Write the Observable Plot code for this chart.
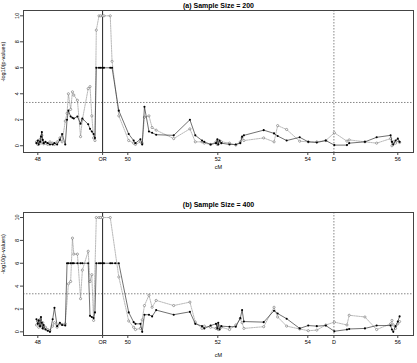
<!DOCTYPE html>
<html>
<head>
<meta charset="utf-8">
<script src="https://cdn.jsdelivr.net/npm/d3@7"></script>
<script src="https://cdn.jsdelivr.net/npm/@observablehq/plot@0.6"></script>
<style>
  body { margin: 0; background: #fff; font-family: "Liberation Sans", Arial, sans-serif; }
  #fig { position: relative; width: 417px; height: 363px; overflow: hidden; }
  #fig > svg { position: absolute; left: 0; }
</style>
</head>
<body>
<div id="fig"></div>
<script>
// Marker positions along the chromosome (cM)
const markerCM = [
  47.97, 48.00, 48.02, 48.05, 48.07, 48.09, 48.11, 48.13, 48.17, 48.22,
  48.27, 48.33, 48.37, 48.43, 48.49, 48.54, 48.61, 48.65, 48.68, 48.73,
  48.77, 48.80, 48.88, 48.95, 48.99, 49.12, 49.16, 49.20, 49.24, 49.27,
  49.30, 49.36, 49.40, 49.44, 49.47, 49.61, 49.65, 49.72, 49.80, 50.02,
  50.13, 50.17, 50.28, 50.32, 50.37, 50.47, 50.54, 50.63, 51.02, 51.38,
  51.50, 51.65, 51.70, 51.84, 51.96, 51.99, 52.01, 52.04, 52.08, 52.26,
  52.40, 52.50, 52.54, 52.58, 53.02, 53.25, 53.33, 53.53, 53.82, 54.01,
  54.20, 54.40, 54.59, 54.87, 54.92, 55.27, 55.53, 55.84, 55.87, 55.90,
  55.95, 56.00, 56.04
];

// -log10(p) per marker, sample size 200 (null = not plotted)
const filled200 = [
  0.2, 0.4, 0.1, 0.3, 0.7, 1.05, 0.45, 0.2, 0.3, 0.2,
  0.1, 0.1, 0.2, 0.1, 0.45, 0.9, 0.1, 2.0, 2.7, 2.25,
  2.15, 2.1, 2.25, 1.7, 2.1, 1.65, 1.3, 1.1, 0.9, 0.6,
  6, 6, 6, 6, 6, 6, 6, null, 2.7, 0.9,
  0.4, 0.2, 0.5, 0.1, 3.0, 1.1, 1.0, 0.85, 0.8, 2.0,
  0.8, 0.4, 0.3, 0.1, 0.2, 0.5, 0.1, 0.4, 0.2, 0.1,
  0.1, 0.2, 0.7, 0.8, 1.2, 0.95, 0.75, 0.4, 0.65, 0.3,
  0.25, 0.4, 0.05, 0.05, 0.2, 0.3, 0.65, 0.8, 0.3, 0.1,
  0.4, 0.55, 0.3
];
const open200 = [
  0.3, 0.1, 0.35, 0.5, 0.2, 0.8, 0.3, 0.15, 0.2, 0.1,
  0.3, 0.2, 0.1, 0.3, 0.6, 0.3, 1.9, 2.5, 4.0, 2.8,
  4.15, 3.9, 3.5, 0.7, 2.0, 4.4, 4.55, 2.3, 0.6, 0.4,
  8.9, 10, 10, 10, 10, 10, 6.5, null, 2.3, 0.4,
  0.2, 0.1, 0.3, 0.2, 2.2, 2.3, 1.4, 1.2, 0.55, 1.3,
  0.3, 0.3, 0.2, 0.1, 0.3, 0.1, 0.4, 0.2, 0.3, 0.2,
  0.05, 0.3, 0.6, 0.4, 0.6, 0.3, 1.55, 1.25, 0.35, 0.3,
  0.3, 0.4, 1.0, 0.35, 0.45, 0.3, 0.2, 0.55, 0.0, 0.3,
  0.2, 0.4, 0.25
];

// -log10(p) per marker, sample size 400
const filled400 = [
  1.1, 0.7, 1.0, 0.5, 1.3, 0.8, 0.3, 0.6, 0.2, 0.1,
  0.0, 1.1, 2.1, 0.5, 0.8, 0.6, 0.55, 6, 6, 6,
  6, 6, 6, 6, 6, 6, 1.4, 1.3, 1.2, 1.7,
  6, 6, 6, 6, 6, 6, 6, 6, 6, 1.7,
  0.85, 0.7, 0.7, 0.0, 1.5, 1.5, 1.35, 1.9, 1.5, 1.75,
  0.7, 0.5, 0.3, 0.55, 0.7, 0.3, 0.8, 0.2, 0.5, 0.45,
  0.45, 1.2, 1.9, 0.9, 0.85, 1.85, 1.6, 1.15, 0.3, 0.55,
  0.5, 0.55, 0.05, 0.2, 0.25, 0.3, 0.55, 0.55, 0.2, 0.0,
  0.5, 0.9, 1.35
];
const open400 = [
  0.6, 0.9, 0.4, 1.1, 0.7, 0.4, 0.8, 0.3, 0.4, 0.2,
  0.1, 0.5, 0.8, 0.4, 0.7, 0.65, 0.7, null, 4.2, 4.4,
  8.2, 6.8, 6.8, 2.9, 5.4, 7.05, 4.4, 5.0, 1.0, null,
  10, 10, 10, 10, null, 10, null, null, 4.8, 0.95,
  0.4, 0.2, 0.3, 1.05, 2.3, 3.2, 2.15, 2.75, 2.3, 2.6,
  0.85, 0.3, 0.5, 0.4, 0.3, 0.6, 0.2, 0.5, 0.4, 0.2,
  0.6, 1.15, 0.8, 0.3, 0.45, 2.15, 1.3, 0.5, 0.25, 0.1,
  0.15, 0.6, 0.85, 0.6, 1.45, 1.3, 0.2, 0.7, 1.0, 0.6,
  0.3, 0.7, 0.9
];

// Axis ticks, titles and reference positions
const xTickValues = [48, 49.44, 50, 52, 54, 54.58, 56];
const xTickLabels = ["48", "OR", "50", "52", "54", "D", "56"];
const yTickValues = [0, 2, 4, 6, 8, 10];
const threshold = 3.33;
const orPos = 49.44;
const dPos = 54.58;
const panelTitles = ["(a) Sample Size = 200", "(b) Sample Size = 400"];
const xTitle = "cM";
const yTitle = "-log10(p-values)";

const font = "'Liberation Sans', Arial, sans-serif";

function series(values) {
  return markerCM.map((x, i) => ({x, y: values[i]})).filter(d => d.y != null);
}

function panel({title, filled, open, top, height, marginTop, marginBottom, yDomain, titleY, xTitleDy}) {
  const filledData = series(filled);
  const openData = series(open);
  const chart = Plot.plot({
    width: 417,
    height,
    marginTop,
    marginBottom,
    marginLeft: 23,
    marginRight: 4,
    style: {fontFamily: font, fontSize: "5.5px", color: "#000", background: "transparent"},
    x: {domain: [47.682, 56.349]},
    y: {domain: yDomain},
    marks: [
      Plot.ruleY([threshold], {stroke: "#555", strokeWidth: 0.7, strokeDasharray: "1.5,1.5"}),
      Plot.ruleX([orPos], {stroke: "#222", strokeWidth: 1}),
      Plot.ruleX([dPos], {stroke: "#555", strokeWidth: 0.7, strokeDasharray: "1.5,1.5"}),
      Plot.line(openData, {x: "x", y: "y", stroke: "#8a8a8a", strokeWidth: 0.6, strokeDasharray: "1.5,1"}),
      Plot.dot(openData, {x: "x", y: "y", r: 1.1, stroke: "#555", strokeWidth: 0.5, fill: "white"}),
      Plot.line(filledData, {x: "x", y: "y", stroke: "#111", strokeWidth: 0.6}),
      Plot.dot(filledData, {x: "x", y: "y", r: 1.05, fill: "#000", stroke: "none"}),
      Plot.frame({stroke: "#444", strokeWidth: 1}),
      Plot.axisX(xTickValues, {
        tickFormat: d => xTickLabels[xTickValues.indexOf(d)],
        tickSize: 3, tickPadding: 2, stroke: "#444", label: null
      }),
      Plot.axisY(yTickValues, {
        tickSize: 3, tickPadding: 2, tickRotate: -90, stroke: "#444", label: null
      }),
      Plot.text([xTitle], {frameAnchor: "bottom", dy: xTitleDy, fontSize: 5.5, fill: "#000"}),
      Plot.text([yTitle], {frameAnchor: "left", dx: -20, rotate: -90, fontSize: 5.5, fill: "#000"}),
      Plot.text([title], {
        frameAnchor: "top", dy: titleY - marginTop,
        fontWeight: "bold", fontSize: 7, fill: "#000"
      })
    ]
  });
  chart.style.top = top + "px";
  document.getElementById("fig").appendChild(chart);
}

panel({
  title: panelTitles[0], filled: filled200, open: open200,
  top: 0, height: 180, marginTop: 10, marginBottom: 28,
  yDomain: [-0.52, 10.41], titleY: 3, xTitleDy: 16
});
panel({
  title: panelTitles[1], filled: filled400, open: open400,
  top: 185, height: 178, marginTop: 27, marginBottom: 28,
  yDomain: [-0.32, 10.44], titleY: 17, xTitleDy: 21.5
});
</script>
</body>
</html>
